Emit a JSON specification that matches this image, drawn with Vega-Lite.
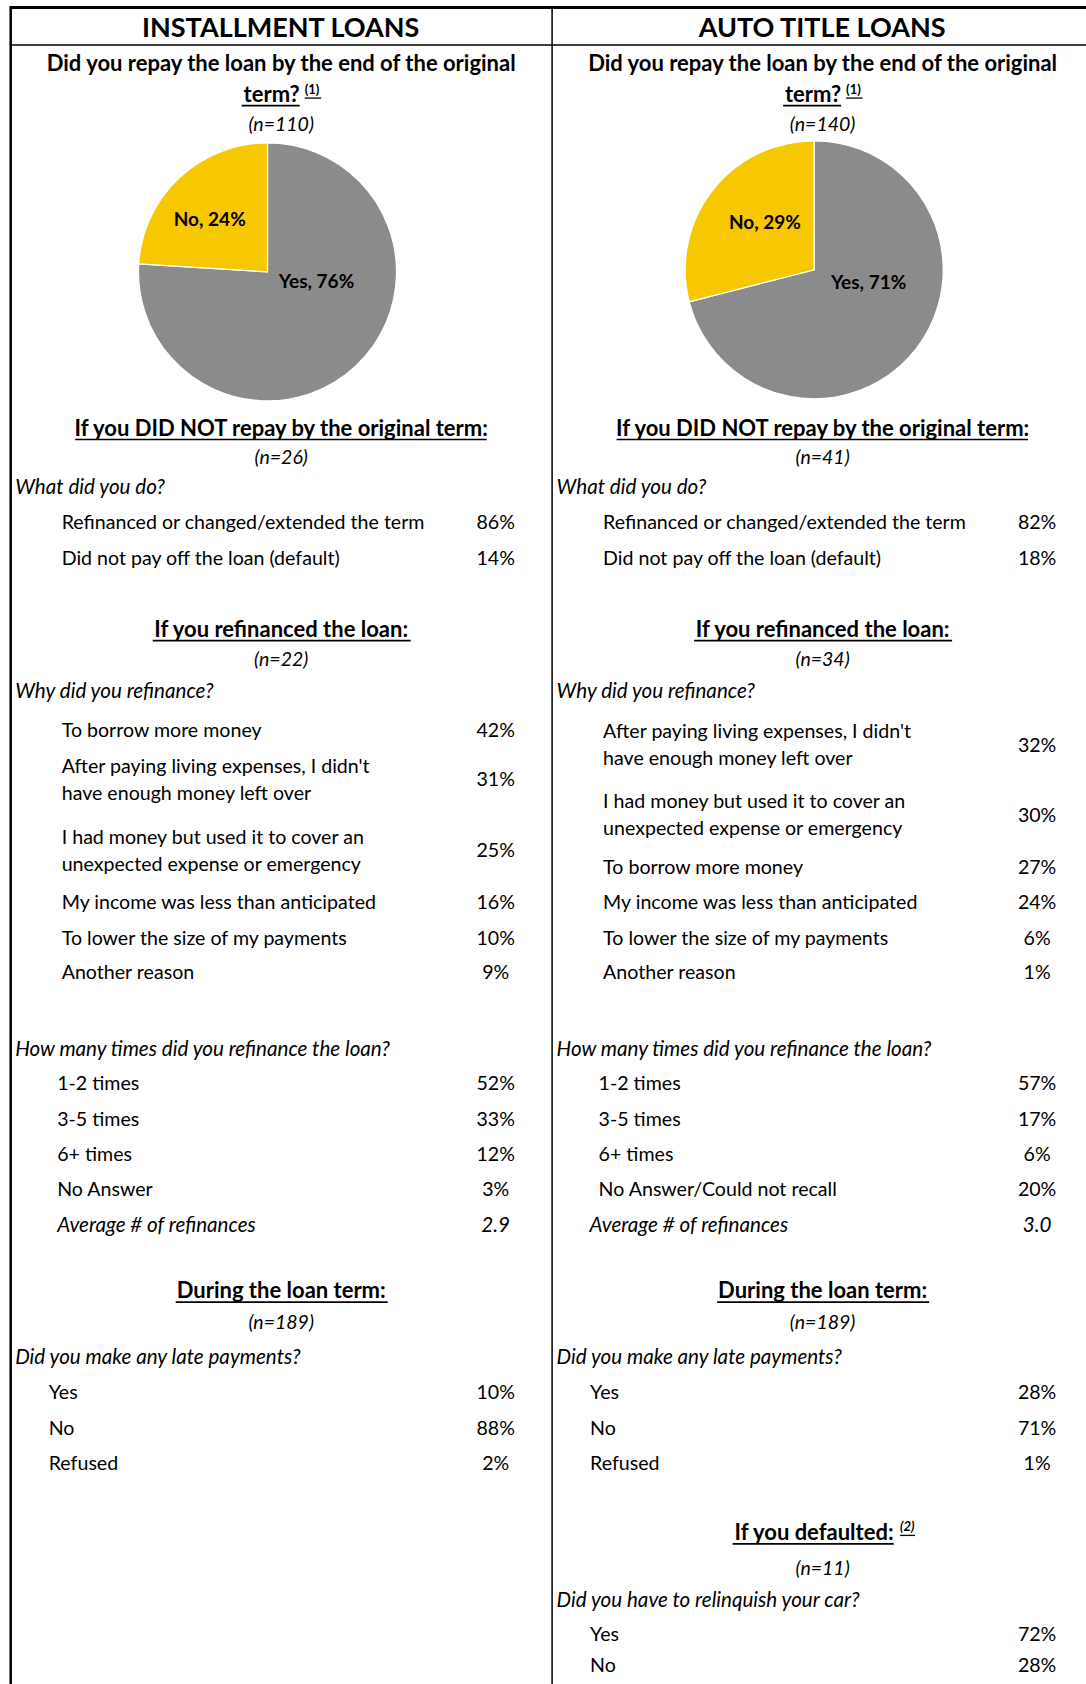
{
  "$schema": "https://vega.github.io/schema/vega-lite/v6.json",
  "width": 1086,
  "height": 1684,
  "autosize": {"type": "none"},
  "padding": 0,
  "background": "white",
  "config": {"view": {"stroke": null}, "text": {"font": "Lato", "color": "#000000"}},
  "resolve": {"scale": {"theta": "independent"}},
  "datasets": {
    "panels": [
      {"panel": "INSTALLMENT LOANS"},
      {"panel": "AUTO TITLE LOANS"}
    ],
    "pie": [
      {"panel": "INSTALLMENT LOANS", "answer": "Yes", "share": 76, "tag": "Yes, 76%"},
      {"panel": "INSTALLMENT LOANS", "answer": "No", "share": 24, "tag": "No, 24%"},
      {"panel": "AUTO TITLE LOANS", "answer": "Yes", "share": 71, "tag": "Yes, 71%"},
      {"panel": "AUTO TITLE LOANS", "answer": "No", "share": 29, "tag": "No, 29%"}
    ],
    "rows": [
      {"panel": "INSTALLMENT LOANS", "kind": "qb", "line": 1.79, "label": "Did you repay the loan by the end of the original"},
      {"panel": "AUTO TITLE LOANS", "kind": "qb", "line": 1.79, "label": "Did you repay the loan by the end of the original"},
      {"panel": "INSTALLMENT LOANS", "kind": "term", "line": 2.64, "label": "term?", "value": "(1)"},
      {"panel": "AUTO TITLE LOANS", "kind": "term", "line": 2.64, "label": "term?", "value": "(1)"},
      {"panel": "INSTALLMENT LOANS", "kind": "n", "line": 3.48, "label": "(n=110)"},
      {"panel": "AUTO TITLE LOANS", "kind": "n", "line": 3.48, "label": "(n=140)"},
      {"panel": "INSTALLMENT LOANS", "kind": "head", "line": 12.06, "label": "If you DID NOT repay by the original term:"},
      {"panel": "AUTO TITLE LOANS", "kind": "head", "line": 12.06, "label": "If you DID NOT repay by the original term:"},
      {"panel": "INSTALLMENT LOANS", "kind": "n", "line": 12.88, "label": "(n=26)"},
      {"panel": "AUTO TITLE LOANS", "kind": "n", "line": 12.88, "label": "(n=41)"},
      {"panel": "INSTALLMENT LOANS", "kind": "q", "line": 13.73, "label": "What did you do?"},
      {"panel": "AUTO TITLE LOANS", "kind": "q", "line": 13.73, "label": "What did you do?"},
      {"panel": "INSTALLMENT LOANS", "kind": "item", "line": 14.73, "label": "Refinanced or changed/extended the term", "value": "86%"},
      {"panel": "AUTO TITLE LOANS", "kind": "item", "line": 14.73, "label": "Refinanced or changed/extended the term", "value": "82%"},
      {"panel": "INSTALLMENT LOANS", "kind": "item", "line": 15.73, "label": "Did not pay off the loan (default)", "value": "14%"},
      {"panel": "AUTO TITLE LOANS", "kind": "item", "line": 15.73, "label": "Did not pay off the loan (default)", "value": "18%"},
      {"panel": "INSTALLMENT LOANS", "kind": "head", "line": 17.73, "label": "If you refinanced the loan:"},
      {"panel": "AUTO TITLE LOANS", "kind": "head", "line": 17.73, "label": "If you refinanced the loan:"},
      {"panel": "INSTALLMENT LOANS", "kind": "n", "line": 18.58, "label": "(n=22)"},
      {"panel": "AUTO TITLE LOANS", "kind": "n", "line": 18.58, "label": "(n=34)"},
      {"panel": "INSTALLMENT LOANS", "kind": "q", "line": 19.48, "label": "Why did you refinance?"},
      {"panel": "AUTO TITLE LOANS", "kind": "q", "line": 19.48, "label": "Why did you refinance?"},
      {"panel": "INSTALLMENT LOANS", "kind": "item", "line": 20.58, "label": "To borrow more money", "value": "42%"},
      {"panel": "INSTALLMENT LOANS", "kind": "item", "line": 21.98, "label": "After paying living expenses, I didn't\nhave enough money left over", "value": "31%"},
      {"panel": "INSTALLMENT LOANS", "kind": "item", "line": 23.98, "label": "I had money but used it to cover an\nunexpected expense or emergency", "value": "25%"},
      {"panel": "INSTALLMENT LOANS", "kind": "item", "line": 25.45, "label": "My income was less than anticipated", "value": "16%"},
      {"panel": "INSTALLMENT LOANS", "kind": "item", "line": 26.45, "label": "To lower the size of my payments", "value": "10%"},
      {"panel": "INSTALLMENT LOANS", "kind": "item", "line": 27.42, "label": "Another reason", "value": "9%"},
      {"panel": "AUTO TITLE LOANS", "kind": "item", "line": 21.0, "label": "After paying living expenses, I didn't\nhave enough money left over", "value": "32%"},
      {"panel": "AUTO TITLE LOANS", "kind": "item", "line": 22.98, "label": "I had money but used it to cover an\nunexpected expense or emergency", "value": "30%"},
      {"panel": "AUTO TITLE LOANS", "kind": "item", "line": 24.45, "label": "To borrow more money", "value": "27%"},
      {"panel": "AUTO TITLE LOANS", "kind": "item", "line": 25.45, "label": "My income was less than anticipated", "value": "24%"},
      {"panel": "AUTO TITLE LOANS", "kind": "item", "line": 26.45, "label": "To lower the size of my payments", "value": "6%"},
      {"panel": "AUTO TITLE LOANS", "kind": "item", "line": 27.42, "label": "Another reason", "value": "1%"},
      {"panel": "INSTALLMENT LOANS", "kind": "q", "line": 29.58, "label": "How many times did you refinance the loan?"},
      {"panel": "AUTO TITLE LOANS", "kind": "q", "line": 29.58, "label": "How many times did you refinance the loan?"},
      {"panel": "INSTALLMENT LOANS", "kind": "count", "line": 30.55, "label": "1-2 times", "value": "52%"},
      {"panel": "AUTO TITLE LOANS", "kind": "count", "line": 30.55, "label": "1-2 times", "value": "57%"},
      {"panel": "INSTALLMENT LOANS", "kind": "count", "line": 31.55, "label": "3-5 times", "value": "33%"},
      {"panel": "AUTO TITLE LOANS", "kind": "count", "line": 31.55, "label": "3-5 times", "value": "17%"},
      {"panel": "INSTALLMENT LOANS", "kind": "count", "line": 32.55, "label": "6+ times", "value": "12%"},
      {"panel": "AUTO TITLE LOANS", "kind": "count", "line": 32.55, "label": "6+ times", "value": "6%"},
      {"panel": "INSTALLMENT LOANS", "kind": "count", "line": 33.55, "label": "No Answer", "value": "3%"},
      {"panel": "AUTO TITLE LOANS", "kind": "count", "line": 33.55, "label": "No Answer/Could  not recall", "value": "20%"},
      {"panel": "INSTALLMENT LOANS", "kind": "avg", "line": 34.55, "label": "Average # of refinances", "value": "2.9"},
      {"panel": "AUTO TITLE LOANS", "kind": "avg", "line": 34.55, "label": "Average # of refinances", "value": "3.0"},
      {"panel": "INSTALLMENT LOANS", "kind": "head", "line": 36.39, "label": "During the loan term:"},
      {"panel": "AUTO TITLE LOANS", "kind": "head", "line": 36.39, "label": "During the loan term:"},
      {"panel": "INSTALLMENT LOANS", "kind": "n", "line": 37.27, "label": "(n=189)"},
      {"panel": "AUTO TITLE LOANS", "kind": "n", "line": 37.27, "label": "(n=189)"},
      {"panel": "INSTALLMENT LOANS", "kind": "q", "line": 38.27, "label": "Did you make any late payments?"},
      {"panel": "AUTO TITLE LOANS", "kind": "q", "line": 38.27, "label": "Did you make any late payments?"},
      {"panel": "INSTALLMENT LOANS", "kind": "late", "line": 39.27, "label": "Yes", "value": "10%"},
      {"panel": "AUTO TITLE LOANS", "kind": "late", "line": 39.27, "label": "Yes", "value": "28%"},
      {"panel": "INSTALLMENT LOANS", "kind": "late", "line": 40.27, "label": "No", "value": "88%"},
      {"panel": "AUTO TITLE LOANS", "kind": "late", "line": 40.27, "label": "No", "value": "71%"},
      {"panel": "INSTALLMENT LOANS", "kind": "late", "line": 41.27, "label": "Refused", "value": "2%"},
      {"panel": "AUTO TITLE LOANS", "kind": "late", "line": 41.27, "label": "Refused", "value": "1%"},
      {"panel": "AUTO TITLE LOANS", "kind": "defaulted", "line": 43.21, "label": "If you defaulted:", "value": "(2)"},
      {"panel": "AUTO TITLE LOANS", "kind": "n", "line": 44.21, "label": "(n=11)"},
      {"panel": "AUTO TITLE LOANS", "kind": "q", "line": 45.12, "label": "Did you have to relinquish your car?"},
      {"panel": "AUTO TITLE LOANS", "kind": "late", "line": 46.09, "label": "Yes", "value": "72%"},
      {"panel": "AUTO TITLE LOANS", "kind": "late", "line": 46.97, "label": "No", "value": "28%"}
    ]
  },
  "layer": [
    {
      "data": {"name": "panels"},
      "mark": {"type": "rect", "color": "#000000"},
      "encoding": {
        "x": {"field": "panel", "type": "nominal", "scale": {"type": "band", "domain": ["INSTALLMENT LOANS", "AUTO TITLE LOANS"], "range": [10.7, 1093.5], "paddingInner": 0, "paddingOuter": 0}, "axis": null},
        "y": {"datum": 0.17, "type": "quantitative", "scale": {"domain": [0, 47.5], "range": [0, 1684], "zero": false, "nice": false}, "axis": null},
        "y2": {"datum": 0.255}
      }
    },
    {
      "data": {"name": "panels"},
      "mark": {"type": "rect", "color": "#000000"},
      "encoding": {
        "x": {"field": "panel", "type": "nominal", "axis": null},
        "y": {"datum": 1.245, "type": "quantitative", "axis": null},
        "y2": {"datum": 1.29}
      }
    },
    {
      "data": {"name": "panels"},
      "transform": [{"filter": "datum.panel == 'INSTALLMENT LOANS'"}],
      "mark": {"type": "rule", "color": "#000000", "strokeWidth": 2.5},
      "encoding": {
        "x": {"field": "panel", "type": "nominal", "bandPosition": 0, "axis": null},
        "y": {"datum": 0.17, "type": "quantitative", "axis": null},
        "y2": {"datum": 47.5}
      }
    },
    {
      "data": {"name": "panels"},
      "transform": [{"filter": "datum.panel == 'AUTO TITLE LOANS'"}],
      "mark": {"type": "rule", "color": "#000000", "strokeWidth": 1.5},
      "encoding": {
        "x": {"field": "panel", "type": "nominal", "bandPosition": 0, "axis": null},
        "y": {"datum": 0.17, "type": "quantitative", "axis": null},
        "y2": {"datum": 47.5}
      }
    },
    {
      "data": {"name": "panels"},
      "mark": {"type": "text", "align": "center", "baseline": "middle", "fontWeight": "bold", "fontSize": 27, "xOffset": 270, "yOffset": 2.5},
      "encoding": {
        "x": {"field": "panel", "type": "nominal", "bandPosition": 0, "axis": null},
        "y": {"datum": 0.76, "type": "quantitative", "axis": null},
        "text": {"field": "panel"}
      }
    },
    {
      "data": {"name": "pie"},
      "transform": [{"filter": "datum.panel == 'INSTALLMENT LOANS'"}],
      "mark": {"type": "arc", "outerRadius": 129, "stroke": "#ffffff", "strokeWidth": 1.2, "xOffset": 256.8, "y": {"expr": "scale('y', 7.67)"}},
      "encoding": {
        "x": {"field": "panel", "type": "nominal", "bandPosition": 0, "axis": null},
        "theta": {"field": "share", "type": "quantitative", "stack": true, "scale": {"domain": [0, 100]}},
        "order": {"field": "share", "sort": "descending"},
        "color": {"field": "answer", "type": "nominal", "scale": {"domain": ["Yes", "No"], "range": ["#8b8b8b", "#f7c800"]}, "legend": null}
      }
    },
    {
      "data": {"name": "pie"},
      "transform": [{"filter": "datum.panel == 'AUTO TITLE LOANS'"}],
      "mark": {"type": "arc", "outerRadius": 129, "stroke": "#ffffff", "strokeWidth": 1.2, "xOffset": 262.1, "y": {"expr": "scale('y', 7.61)"}},
      "encoding": {
        "x": {"field": "panel", "type": "nominal", "bandPosition": 0, "axis": null},
        "theta": {"field": "share", "type": "quantitative", "stack": true, "scale": {"domain": [0, 100]}},
        "order": {"field": "share", "sort": "descending"},
        "color": {"field": "answer", "type": "nominal", "legend": null}
      }
    },
    {
      "data": {"name": "pie"},
      "transform": [{"filter": "datum.panel == 'INSTALLMENT LOANS'"}],
      "mark": {"type": "text", "radius": 50, "fontWeight": "bold", "fontSize": 19, "xOffset": 256.8, "y": {"expr": "scale('y', 7.67)"}, "align": "center", "baseline": "middle"},
      "encoding": {
        "x": {"field": "panel", "type": "nominal", "bandPosition": 0, "axis": null},
        "theta": {"field": "share", "type": "quantitative", "stack": true, "scale": {"domain": [0, 100], "range": [-0.62, 5.6632]}},
        "order": {"field": "share", "sort": "descending"},
        "text": {"field": "tag"},
        "opacity": {"condition": {"test": "datum.answer == 'Yes'", "value": 1}, "value": 0}
      }
    },
    {
      "data": {"name": "pie"},
      "transform": [{"filter": "datum.panel == 'INSTALLMENT LOANS'"}],
      "mark": {"type": "text", "radius": 78, "fontWeight": "bold", "fontSize": 19, "xOffset": 256.8, "y": {"expr": "scale('y', 7.67)"}, "align": "center", "baseline": "middle"},
      "encoding": {
        "x": {"field": "panel", "type": "nominal", "bandPosition": 0, "axis": null},
        "theta": {"field": "share", "type": "quantitative", "stack": true, "scale": {"domain": [0, 100], "range": [-0.08, 6.2032]}},
        "order": {"field": "share", "sort": "descending"},
        "text": {"field": "tag"},
        "opacity": {"condition": {"test": "datum.answer == 'No'", "value": 1}, "value": 0}
      }
    },
    {
      "data": {"name": "pie"},
      "transform": [{"filter": "datum.panel == 'AUTO TITLE LOANS'"}],
      "mark": {"type": "text", "radius": 56, "fontWeight": "bold", "fontSize": 19, "xOffset": 262.1, "y": {"expr": "scale('y', 7.61)"}, "align": "center", "baseline": "middle"},
      "encoding": {
        "x": {"field": "panel", "type": "nominal", "bandPosition": 0, "axis": null},
        "theta": {"field": "share", "type": "quantitative", "stack": true, "scale": {"domain": [0, 100], "range": [-0.42, 5.8632]}},
        "order": {"field": "share", "sort": "descending"},
        "text": {"field": "tag"},
        "opacity": {"condition": {"test": "datum.answer == 'Yes'", "value": 1}, "value": 0}
      }
    },
    {
      "data": {"name": "pie"},
      "transform": [{"filter": "datum.panel == 'AUTO TITLE LOANS'"}],
      "mark": {"type": "text", "radius": 68, "fontWeight": "bold", "fontSize": 19, "xOffset": 262.1, "y": {"expr": "scale('y', 7.61)"}, "align": "center", "baseline": "middle"},
      "encoding": {
        "x": {"field": "panel", "type": "nominal", "bandPosition": 0, "axis": null},
        "theta": {"field": "share", "type": "quantitative", "stack": true, "scale": {"domain": [0, 100], "range": [0.1, 6.3832]}},
        "order": {"field": "share", "sort": "descending"},
        "text": {"field": "tag"},
        "opacity": {"condition": {"test": "datum.answer == 'No'", "value": 1}, "value": 0}
      }
    },
    {
      "data": {"name": "rows"},
      "transform": [{"filter": "datum.kind == 'qb' || datum.kind == 'head'"}],
      "mark": {"type": "text", "align": "center", "baseline": "middle", "fontWeight": "bold", "fontSize": 22, "xOffset": 270.5, "yOffset": 1},
      "encoding": {
        "x": {"field": "panel", "type": "nominal", "bandPosition": 0, "axis": null},
        "y": {"field": "line", "type": "quantitative", "axis": null},
        "text": {"field": "label"}
      }
    },
    {
      "data": {"name": "rows"},
      "transform": [{"filter": "datum.kind == 'term'"}],
      "mark": {"type": "text", "align": "right", "baseline": "middle", "fontWeight": "bold", "fontSize": 22, "xOffset": 289, "yOffset": 1},
      "encoding": {
        "x": {"field": "panel", "type": "nominal", "bandPosition": 0, "axis": null},
        "y": {"field": "line", "type": "quantitative", "axis": null},
        "text": {"field": "label"}
      }
    },
    {
      "data": {"name": "rows"},
      "transform": [{"filter": "datum.kind == 'term'"}],
      "mark": {"type": "text", "align": "left", "baseline": "middle", "fontWeight": "bold", "fontSize": 13, "xOffset": 294, "yOffset": -3.5},
      "encoding": {
        "x": {"field": "panel", "type": "nominal", "bandPosition": 0, "axis": null},
        "y": {"field": "line", "type": "quantitative", "axis": null},
        "text": {"field": "value"}
      }
    },
    {
      "data": {"name": "rows"},
      "transform": [{"filter": "datum.kind == 'defaulted'"}],
      "mark": {"type": "text", "align": "right", "baseline": "middle", "fontWeight": "bold", "fontSize": 22, "xOffset": 341.5, "yOffset": 1},
      "encoding": {
        "x": {"field": "panel", "type": "nominal", "bandPosition": 0, "axis": null},
        "y": {"field": "line", "type": "quantitative", "axis": null},
        "text": {"field": "label"}
      }
    },
    {
      "data": {"name": "rows"},
      "transform": [{"filter": "datum.kind == 'defaulted'"}],
      "mark": {"type": "text", "align": "left", "baseline": "middle", "fontWeight": "bold", "fontStyle": "italic", "fontSize": 13, "xOffset": 348, "yOffset": -4.5},
      "encoding": {
        "x": {"field": "panel", "type": "nominal", "bandPosition": 0, "axis": null},
        "y": {"field": "line", "type": "quantitative", "axis": null},
        "text": {"field": "value"}
      }
    },
    {
      "data": {"name": "rows"},
      "transform": [{"filter": "datum.label == 'term?'"}],
      "mark": {"type": "rule", "color": "#000000", "strokeWidth": 1.6, "xOffset": 231, "x2Offset": 289, "yOffset": 12},
      "encoding": {
        "x": {"field": "panel", "type": "nominal", "bandPosition": 0, "axis": null},
        "x2": {"field": "panel", "bandPosition": 0},
        "y": {"field": "line", "type": "quantitative", "axis": null}
      }
    },
    {
      "data": {"name": "rows"},
      "transform": [{"filter": "datum.kind == 'term'"}],
      "mark": {"type": "rule", "color": "#000000", "strokeWidth": 1.3, "xOffset": 294, "x2Offset": 310.5, "yOffset": 4.5},
      "encoding": {
        "x": {"field": "panel", "type": "nominal", "bandPosition": 0, "axis": null},
        "x2": {"field": "panel", "bandPosition": 0},
        "y": {"field": "line", "type": "quantitative", "axis": null}
      }
    },
    {
      "data": {"name": "rows"},
      "transform": [{"filter": "datum.label == 'If you DID NOT repay by the original term:'"}],
      "mark": {"type": "rule", "color": "#000000", "strokeWidth": 1.6, "xOffset": 64.5, "x2Offset": 476, "yOffset": 12},
      "encoding": {
        "x": {"field": "panel", "type": "nominal", "bandPosition": 0, "axis": null},
        "x2": {"field": "panel", "bandPosition": 0},
        "y": {"field": "line", "type": "quantitative", "axis": null}
      }
    },
    {
      "data": {"name": "rows"},
      "transform": [{"filter": "datum.label == 'If you refinanced the loan:'"}],
      "mark": {"type": "rule", "color": "#000000", "strokeWidth": 1.6, "xOffset": 142, "x2Offset": 400, "yOffset": 12},
      "encoding": {
        "x": {"field": "panel", "type": "nominal", "bandPosition": 0, "axis": null},
        "x2": {"field": "panel", "bandPosition": 0},
        "y": {"field": "line", "type": "quantitative", "axis": null}
      }
    },
    {
      "data": {"name": "rows"},
      "transform": [{"filter": "datum.label == 'During the loan term:'"}],
      "mark": {"type": "rule", "color": "#000000", "strokeWidth": 1.6, "xOffset": 165, "x2Offset": 377, "yOffset": 12},
      "encoding": {
        "x": {"field": "panel", "type": "nominal", "bandPosition": 0, "axis": null},
        "x2": {"field": "panel", "bandPosition": 0},
        "y": {"field": "line", "type": "quantitative", "axis": null}
      }
    },
    {
      "data": {"name": "rows"},
      "transform": [{"filter": "datum.kind == 'defaulted'"}],
      "mark": {"type": "rule", "color": "#000000", "strokeWidth": 1.6, "xOffset": 180.5, "x2Offset": 341.6, "yOffset": 12},
      "encoding": {
        "x": {"field": "panel", "type": "nominal", "bandPosition": 0, "axis": null},
        "x2": {"field": "panel", "bandPosition": 0},
        "y": {"field": "line", "type": "quantitative", "axis": null}
      }
    },
    {
      "data": {"name": "rows"},
      "transform": [{"filter": "datum.kind == 'defaulted'"}],
      "mark": {"type": "rule", "color": "#000000", "strokeWidth": 1.3, "xOffset": 348, "x2Offset": 363, "yOffset": 3.5},
      "encoding": {
        "x": {"field": "panel", "type": "nominal", "bandPosition": 0, "axis": null},
        "x2": {"field": "panel", "bandPosition": 0},
        "y": {"field": "line", "type": "quantitative", "axis": null}
      }
    },
    {
      "data": {"name": "rows"},
      "transform": [{"filter": "datum.kind == 'n'"}],
      "mark": {"type": "text", "align": "center", "baseline": "middle", "fontStyle": "italic", "fontSize": 19.5, "xOffset": 270.5, "yOffset": 1.5},
      "encoding": {
        "x": {"field": "panel", "type": "nominal", "bandPosition": 0, "axis": null},
        "y": {"field": "line", "type": "quantitative", "axis": null},
        "text": {"field": "label"}
      }
    },
    {
      "data": {"name": "rows"},
      "transform": [{"filter": "datum.kind == 'q'"}],
      "mark": {"type": "text", "align": "left", "baseline": "middle", "fontStyle": "italic", "fontSize": 20.6, "xOffset": 4.5, "yOffset": 1.2},
      "encoding": {
        "x": {"field": "panel", "type": "nominal", "bandPosition": 0, "axis": null},
        "y": {"field": "line", "type": "quantitative", "axis": null},
        "text": {"field": "label"}
      }
    },
    {
      "data": {"name": "rows"},
      "transform": [{"filter": "datum.kind == 'item' && indexof(datum.label, '\\n') < 0"}],
      "mark": {"type": "text", "align": "left", "baseline": "middle", "fontSize": 19.6, "xOffset": 51, "yOffset": 1},
      "encoding": {
        "x": {"field": "panel", "type": "nominal", "bandPosition": 0, "axis": null},
        "y": {"field": "line", "type": "quantitative", "axis": null},
        "text": {"field": "label"}
      }
    },
    {
      "data": {"name": "rows"},
      "transform": [{"filter": "datum.kind == 'item' && indexof(datum.label, '\\n') >= 0"}],
      "mark": {"type": "text", "align": "left", "baseline": "middle", "fontSize": 19.6, "xOffset": 51, "yOffset": -12.5, "lineBreak": "\n", "lineHeight": 27},
      "encoding": {
        "x": {"field": "panel", "type": "nominal", "bandPosition": 0, "axis": null},
        "y": {"field": "line", "type": "quantitative", "axis": null},
        "text": {"field": "label"}
      }
    },
    {
      "data": {"name": "rows"},
      "transform": [{"filter": "datum.kind == 'count'"}],
      "mark": {"type": "text", "align": "left", "baseline": "middle", "fontSize": 19.6, "xOffset": 46.5, "yOffset": 1},
      "encoding": {
        "x": {"field": "panel", "type": "nominal", "bandPosition": 0, "axis": null},
        "y": {"field": "line", "type": "quantitative", "axis": null},
        "text": {"field": "label"}
      }
    },
    {
      "data": {"name": "rows"},
      "transform": [{"filter": "datum.kind == 'avg' && datum.panel == 'INSTALLMENT LOANS'"}],
      "mark": {"type": "text", "align": "left", "baseline": "middle", "fontStyle": "italic", "fontSize": 20.6, "xOffset": 46.5, "yOffset": 1},
      "encoding": {
        "x": {"field": "panel", "type": "nominal", "bandPosition": 0, "axis": null},
        "y": {"field": "line", "type": "quantitative", "axis": null},
        "text": {"field": "label"}
      }
    },
    {
      "data": {"name": "rows"},
      "transform": [{"filter": "datum.kind == 'avg' && datum.panel == 'AUTO TITLE LOANS'"}],
      "mark": {"type": "text", "align": "left", "baseline": "middle", "fontStyle": "italic", "fontSize": 20.6, "xOffset": 37.5, "yOffset": 1},
      "encoding": {
        "x": {"field": "panel", "type": "nominal", "bandPosition": 0, "axis": null},
        "y": {"field": "line", "type": "quantitative", "axis": null},
        "text": {"field": "label"}
      }
    },
    {
      "data": {"name": "rows"},
      "transform": [{"filter": "datum.kind == 'late'"}],
      "mark": {"type": "text", "align": "left", "baseline": "middle", "fontSize": 19.6, "xOffset": 38, "yOffset": 1},
      "encoding": {
        "x": {"field": "panel", "type": "nominal", "bandPosition": 0, "axis": null},
        "y": {"field": "line", "type": "quantitative", "axis": null},
        "text": {"field": "label"}
      }
    },
    {
      "data": {"name": "rows"},
      "transform": [{"filter": "datum.kind == 'item' || datum.kind == 'count' || datum.kind == 'late'"}],
      "mark": {"type": "text", "align": "center", "baseline": "middle", "fontSize": 19.6, "xOffset": 485, "yOffset": 1},
      "encoding": {
        "x": {"field": "panel", "type": "nominal", "bandPosition": 0, "axis": null},
        "y": {"field": "line", "type": "quantitative", "axis": null},
        "text": {"field": "value"}
      }
    },
    {
      "data": {"name": "rows"},
      "transform": [{"filter": "datum.kind == 'avg'"}],
      "mark": {"type": "text", "align": "center", "baseline": "middle", "fontStyle": "italic", "fontSize": 20.6, "xOffset": 485, "yOffset": 1},
      "encoding": {
        "x": {"field": "panel", "type": "nominal", "bandPosition": 0, "axis": null},
        "y": {"field": "line", "type": "quantitative", "axis": null},
        "text": {"field": "value"}
      }
    }
  ]
}
